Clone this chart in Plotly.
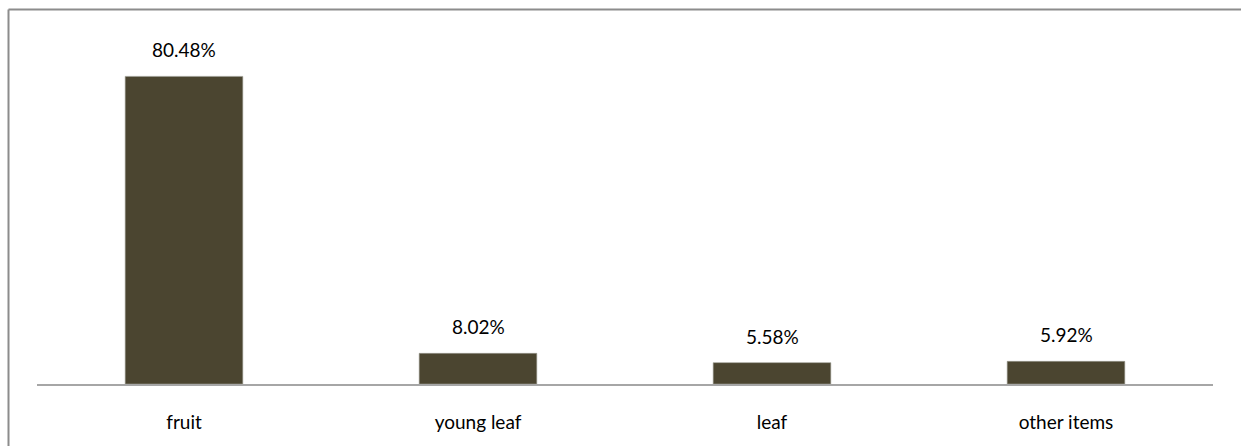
import plotly.graph_objects as go

categories = ["fruit", "young leaf", "leaf", "other items"]
values = [80.48, 8.02, 5.58, 5.92]
labels = ["80.48%", "8.02%", "5.58%", "5.92%"]

W, H = 1241, 446
L, R, T, B = 37, 28, 40, 62
pw, ph = W - L - R, H - T - B

FONT = "Lato, sans-serif"

fig = go.Figure()
fig.add_trace(go.Bar(
    x=categories, y=values, width=0.4,
    marker=dict(color="#4b4530", line=dict(color="#9a9a90", width=0.6)),
    hoverinfo="skip",
))

for c, v, t in zip(categories, values, labels):
    fig.add_annotation(x=c, y=v, text=t, showarrow=False, yanchor="bottom",
                       yshift=13, font=dict(size=19, color="#000000", family=FONT))

# outer frame (top and left only visible)
fx = (8.5 - L) / pw
fy = (H - B - 9.5) / ph
fig.add_shape(type="line", xref="paper", yref="paper", x0=fx, x1=(W - L) / pw, y0=fy, y1=fy,
              line=dict(color="#8c8c8c", width=2))
fig.add_shape(type="line", xref="paper", yref="paper", x0=fx, x1=fx, y0=fy, y1=-(B + 5) / ph,
              line=dict(color="#8c8c8c", width=2))

fig.update_layout(
    width=W, height=H, margin=dict(l=L, r=R, t=T, b=B),
    paper_bgcolor="white", plot_bgcolor="white",
    showlegend=False, bargap=0.6,
    font=dict(family=FONT, size=19, color="#000000"),
)
fig.update_xaxes(showline=True, linecolor="#a6a6a6", linewidth=1.5, ticks="",
                 showgrid=False, ticklabelstandoff=20, tickfont=dict(size=19))
fig.update_yaxes(range=[0, 90], visible=False, showgrid=False)

fig.write_html("out.html")
